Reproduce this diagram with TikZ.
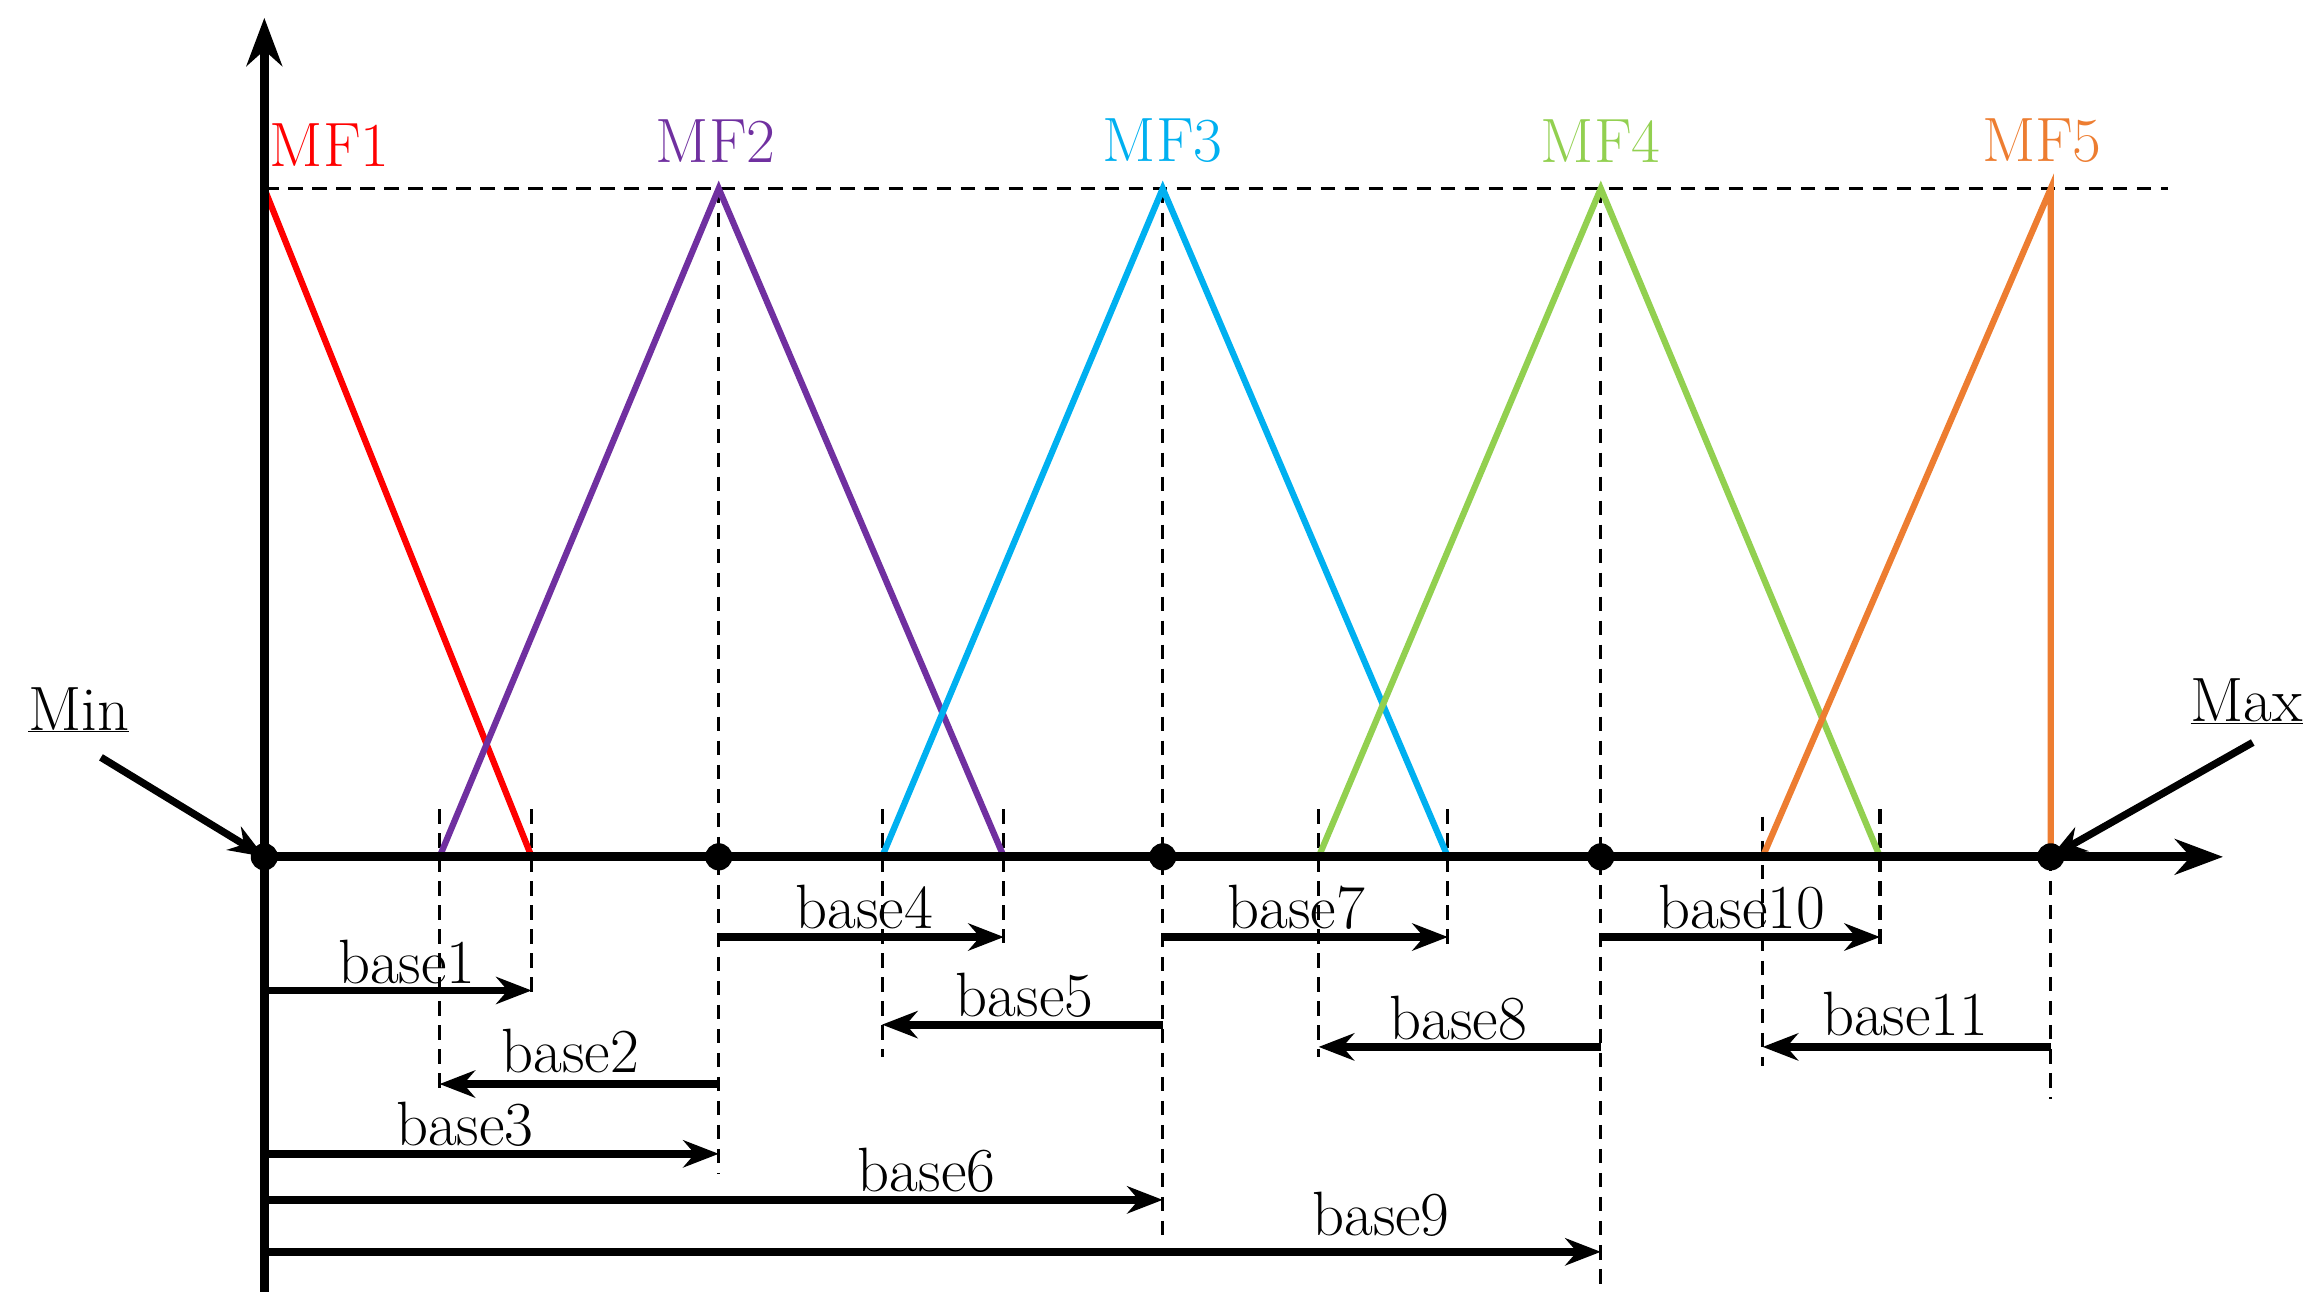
\documentclass[tikz,border=0pt]{standalone}
\usetikzlibrary{arrows.meta}
\definecolor{c1}{RGB}{255,0,0}
\definecolor{c2}{RGB}{112,48,160}
\definecolor{c3}{RGB}{0,176,240}
\definecolor{c4}{RGB}{146,208,80}
\definecolor{c5}{RGB}{237,125,49}
\begin{document}
\begin{tikzpicture}[x=0.05cm,y=-0.05cm,
  lab/.style={font=\fontsize{60}{70}\selectfont,inner sep=0pt},
  mf/.style={line width=6pt},
  dsh/.style={line width=3pt,dash pattern=on 14pt off 9pt},
  ar/.style={line width=7.5pt,-{Stealth[length=34pt,width=26pt]}},
  dot/.style={circle,fill=black,inner sep=0pt,minimum size=26pt}]
\useasboundingbox (0,0) rectangle (1563,877);
\foreach \n/\x in {p1/178,p2/484,p3/783,p4/1078,p5/1381}{
  \coordinate (\n) at (\x,577); \coordinate (\n t) at (\x,127);}
\foreach \n/\x in {a/296,b/358,c/594,d/676,e/888,f/975,g/1187,h/1266}{
  \coordinate (\n) at (\x,577);}
\coordinate (topend) at (1460,127);
\draw[dsh] (p1t) -- (topend);
\foreach \x/\a/\b in {296/545/735,358/545/670,594/545/712,676/545/635,888/545/712,975/545/640,1187/550/718,1266/545/640,1381/577/740}{
  \draw[dsh] (\x,\a) -- (\x,\b);}
\draw[dsh] (p2t) -- (484,790);
\draw[dsh] (p3t) -- (783,835);
\draw[dsh] (p4t) -- (1078,865);
\draw[mf,c1] (p1) -- (p1t) -- (b);
\draw[mf,c2] (a) -- (p2t) -- (d);
\draw[mf,c3] (c) -- (p3t) -- (f);
\draw[mf,c4] (e) -- (p4t) -- (h);
\draw[mf,c5] (g) -- (p5t) -- (p5);
\coordinate (yb) at (178,870); \coordinate (yt) at (178,12);
\coordinate (xe) at (1497,577);
\draw[line width=8.5pt,-{Stealth[length=46pt,width=34pt]}] (yb) -- (yt);
\draw[line width=8.5pt,-{Stealth[length=46pt,width=34pt]}] (p1) -- (xe);
\foreach \n in {p1,p2,p3,p4,p5}{\node[dot] at (\n) {};}
\node[lab,text=c1] (m1) at (222,98) {MF1};
\node[lab,text=c2] (m2) at (482,95) {MF2};
\node[lab,text=c3] (m3) at (783,95) {MF3};
\node[lab,text=c4] (m4) at (1078,95) {MF4};
\node[lab,text=c5] (m5) at (1375,95) {MF5};
\node[lab] (min) at (53,478) {\underline{Min}};
\node[lab] (max) at (1513,472) {\underline{Max}};
\draw[line width=7pt,-{Stealth[length=34pt,width=26pt]}] (68,510) -- (p1);
\draw[line width=7pt,-{Stealth[length=34pt,width=26pt]}] (1517,500) -- (p5);
\foreach \s/\e/\y/\lx/\ly/\t in {
 178/358/667/274/648/base1, 484/296/730/384/708/base2, 178/484/777/313/757/base3,
 484/676/631/582/611/base4, 783/594/690/690/670/base5, 178/783/808/624/788/base6,
 783/975/631/873/611/base7, 1078/888/705/982/686/base8, 178/1078/843/930/818/base9,
 1078/1266/631/1173/611/base10, 1381/1187/705/1283/683/base11}{
  \coordinate (s\t) at (\s,\y); \coordinate (e\t) at (\e,\y);
  \draw[ar] (s\t) -- (e\t);
  \node[lab] (\t) at (\lx,\ly) {\t};}
\end{tikzpicture}
\end{document}
